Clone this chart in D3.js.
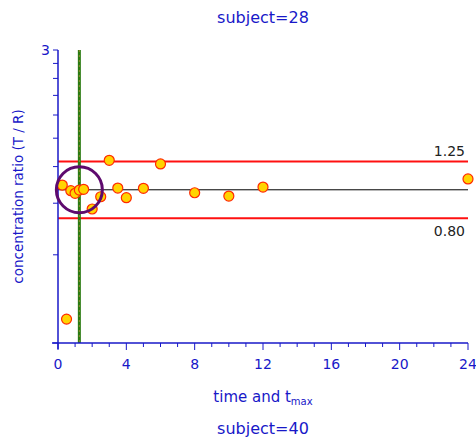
<!DOCTYPE html>
<html>
<head>
<meta charset="utf-8">
<script src="https://cdn.jsdelivr.net/npm/d3@7"></script>
<style>
  body { margin: 0; background: #fff; }
  text { font-family: "DejaVu Sans", Verdana, sans-serif; }
</style>
</head>
<body>
<div id="chart"></div>
<script>
// data
var times  = [0.25, 0.5, 0.75, 1, 1.25, 1.5, 2, 2.5, 3, 3.5, 4, 5, 6, 8, 10, 12, 24];
var ratios = [1.038, 0.362, 0.993, 0.973, 0.998, 1.004, 0.86, 0.947, 1.261, 1.014, 0.94, 1.012, 1.225, 0.977, 0.952, 1.022, 1.089];
var tmax = 1.25;
var limits = [1.25, 0.80];
var limitLabels = ["1.25", "0.80"];
var xTicks = [0, 4, 8, 12, 16, 20, 24];
var xMinor = d3.range(0, 25, 1);
var yTicks = [0.3, 0.6, 0.9, 1.2, 1.5, 1.8, 2.1, 2.4, 2.7, 3.0];
var yTickLabels = ["", "", "", "", "", "", "", "", "", "3"];
var title = "subject=28", nextTitle = "subject=40";

var W = 476, H = 438;
var margin = {top: 50, right: 8, bottom: 95, left: 58};
var blue = "#1818c8";

var svg = d3.select("#chart").append("svg")
    .attr("width", W).attr("height", H);

var x = d3.scaleLinear().domain([0, 24]).range([margin.left, W - margin.right]);
var y = d3.scaleLog().domain([0.3, 3]).range([H - margin.bottom, margin.top]);

// title
svg.append("text")
    .attr("x", (x(0) + x(24)) / 2).attr("y", 23)
    .attr("text-anchor", "middle")
    .style("font-size", "16px").style("fill", blue)
    .text(title);

// limit lines
svg.selectAll(".lim")
  .data(limits)
  .enter().append("line")
    .attr("class", "lim")
    .attr("x1", x(0)).attr("x2", x(24))
    .attr("y1", d => y(d)).attr("y2", d => y(d))
    .attr("stroke", "#ff1010").attr("stroke-width", 2);

svg.selectAll(".limtext")
  .data(limits)
  .enter().append("text")
    .attr("class", "limtext")
    .attr("x", x(24) - 3)
    .attr("y", (d, i) => i === 0 ? y(d) - 5 : y(d) + 18)
    .attr("text-anchor", "end")
    .style("font-size", "14px").style("fill", "#222")
    .text((d, i) => limitLabels[i]);

// unity line
svg.append("line")
    .attr("x1", x(0)).attr("x2", x(24))
    .attr("y1", y(1)).attr("y2", y(1))
    .attr("stroke", "black").attr("stroke-width", 1);

// tmax line
svg.append("line")
    .attr("x1", x(tmax)).attr("x2", x(tmax))
    .attr("y1", y(3)).attr("y2", y(0.3))
    .attr("stroke", "#2a7a10").attr("stroke-width", 3);
svg.append("line")
    .attr("x1", x(tmax)).attr("x2", x(tmax))
    .attr("y1", y(3)).attr("y2", y(0.3))
    .attr("stroke", "#b08a3a").attr("stroke-width", 0.8)
    .attr("stroke-dasharray", "2,3");

// axes
var xAxis = svg.append("g")
    .attr("transform", "translate(0," + y(0.3) + ")");
xAxis.append("line")
    .attr("x1", x(0) - 6).attr("x2", x(24))
    .attr("stroke", blue).attr("stroke-width", 1.5);
xAxis.selectAll(".xminor")
  .data(xMinor)
  .enter().append("line")
    .attr("x1", d => x(d)).attr("x2", d => x(d))
    .attr("y1", 0).attr("y2", d => d % 4 === 0 ? 7 : 4)
    .attr("stroke", blue).attr("stroke-width", 1);
xAxis.selectAll(".xlab")
  .data(xTicks)
  .enter().append("text")
    .attr("x", d => x(d)).attr("y", 26)
    .attr("text-anchor", "middle")
    .style("font-size", "14px").style("fill", blue)
    .text(d => d);

var yAxis = svg.append("g");
yAxis.append("line")
    .attr("x1", x(0)).attr("x2", x(0))
    .attr("y1", y(3)).attr("y2", y(0.3) + 6)
    .attr("stroke", blue).attr("stroke-width", 1.5);
yAxis.selectAll(".ytick")
  .data(yTicks)
  .enter().append("line")
    .attr("x1", x(0) - 5).attr("x2", x(0))
    .attr("y1", d => y(d)).attr("y2", d => y(d))
    .attr("stroke", blue).attr("stroke-width", 1);
yAxis.selectAll(".ylab")
  .data(yTicks)
  .enter().append("text")
    .attr("x", x(0) - 8).attr("y", d => y(d) + 5)
    .attr("text-anchor", "end")
    .style("font-size", "14px").style("fill", blue)
    .text((d, i) => yTickLabels[i]);

// axis titles
var xl = svg.append("text")
    .attr("x", (x(0) + x(24)) / 2).attr("y", 402)
    .attr("text-anchor", "middle")
    .style("font-size", "15px").style("fill", blue);
xl.append("tspan").text("time and t");
xl.append("tspan").attr("dy", 3).style("font-size", "10px").text("max");

svg.append("text")
    .attr("transform", "translate(23," + (y(0.3) + y(3)) / 2 + ") rotate(-90)")
    .attr("text-anchor", "middle")
    .style("font-size", "13.5px").style("fill", blue)
    .text("concentration ratio (T / R)");

svg.append("text")
    .attr("x", (x(0) + x(24)) / 2).attr("y", 434)
    .attr("text-anchor", "middle")
    .style("font-size", "16px").style("fill", blue)
    .text(nextTitle);

// points
svg.selectAll(".pt")
  .data(times)
  .enter().append("circle")
    .attr("class", "pt")
    .attr("cx", d => x(d))
    .attr("cy", (d, i) => y(ratios[i]))
    .attr("r", 5)
    .attr("fill", "#ffd400")
    .attr("stroke", "#ff2a00").attr("stroke-width", 1.2);

// tmax circle
svg.append("circle")
    .attr("cx", x(tmax)).attr("cy", y(1))
    .attr("r", 23)
    .attr("fill", "none")
    .attr("stroke", "#5e0a6e").attr("stroke-width", 3);
</script>
</body>
</html>
